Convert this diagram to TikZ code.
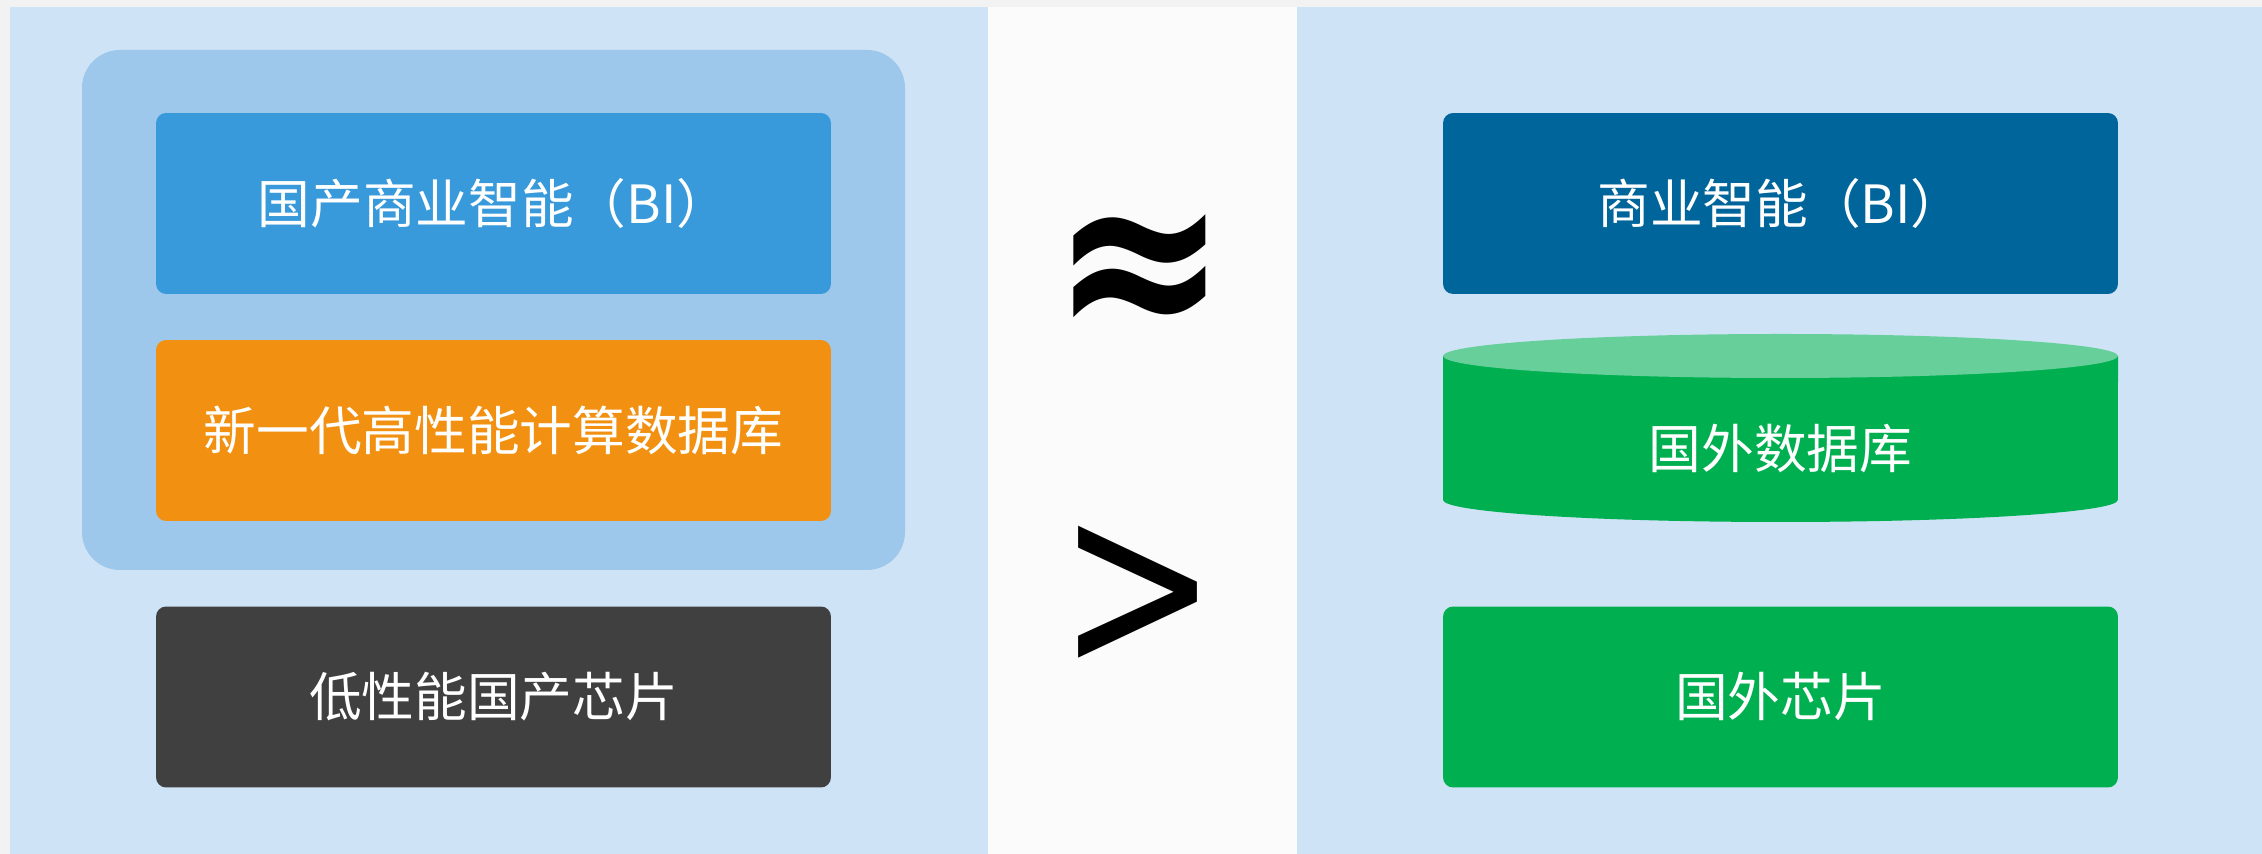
\documentclass[tikz,border=0pt]{standalone}
\usepackage{fontspec}
\newfontfamily\cjk{Noto Sans CJK SC}
\newfontfamily\symb{DejaVu Sans}
\usetikzlibrary{backgrounds}

\definecolor{Fond}{HTML}{F2F2F2}
\definecolor{Milieu}{HTML}{FBFBFB}
\definecolor{Panneau}{HTML}{CEE3F6}
\definecolor{Cadre}{HTML}{9DC8EB}
\definecolor{BleuBI}{HTML}{3899DB}
\definecolor{Orange}{HTML}{F29111}
\definecolor{Gris}{HTML}{404040}
\definecolor{BleuFonce}{HTML}{00659A}
\definecolor{Vert}{HTML}{00B050}
\definecolor{VertClair}{HTML}{67D09A}

\begin{document}
\begin{tikzpicture}[x=0.02cm, y=0.02cm]
\tikzset{
    bloc/.style={minimum width=13.5cm, minimum height=3.62cm, rounded corners=0.2cm, inner sep=0pt,
        text=white, font=\cjk\fontsize{30}{36}\selectfont},
    signe/.style={inner sep=0pt, text=black}
}
    % fonds
    \fill[Fond] (0,0) rectangle (2262,854);
    \fill[Milieu] (988,0) rectangle (1297,847);
    \fill[Panneau] (10,0) rectangle (988,847);
    \fill[Panneau] (1297,0) rectangle (2262,847);
    \fill[Cadre, rounded corners=0.76cm] (82,284) rectangle (905,804);

    % pile de gauche
    \node[bloc, fill=BleuBI](BILocal) at (493.5,650.5) {国产商业智能（BI）};
    \node[bloc, fill=Orange](DBLocal) at (493.5,423.5) {新一代高性能计算数据库};
    \node[bloc, fill=Gris](ChipLocal) at (493.5,157) {低性能国产芯片};

    % pile de droite
    \node[bloc, fill=BleuFonce](BIForeign) at (1780.5,650.5) {商业智能（BI）};
    \fill[Vert] (1443,498) -- (1443,354) arc[start angle=180, end angle=360, x radius=6.75cm, y radius=0.44cm] -- (2118,498) -- cycle;
    \fill[VertClair] (1780.5,498) ellipse [x radius=6.75cm, y radius=0.44cm];
    \node[bloc, minimum height=0pt, fill=none](DBForeign) at (1780.5,405) {国外数据库};
    \node[bloc, fill=Vert](ChipForeign) at (1780.5,157) {国外芯片};

    % comparaison
    \node[signe, font=\symb\bfseries\fontsize{120}{120}\selectfont, yscale=1.2, transform shape](Approx) at (1139.5,574) {≈};
    \node[signe, font=\symb\fontsize{108}{108}\selectfont, yscale=1.3, transform shape](Greater) at (1138,256) {>};
\end{tikzpicture}
\end{document}
